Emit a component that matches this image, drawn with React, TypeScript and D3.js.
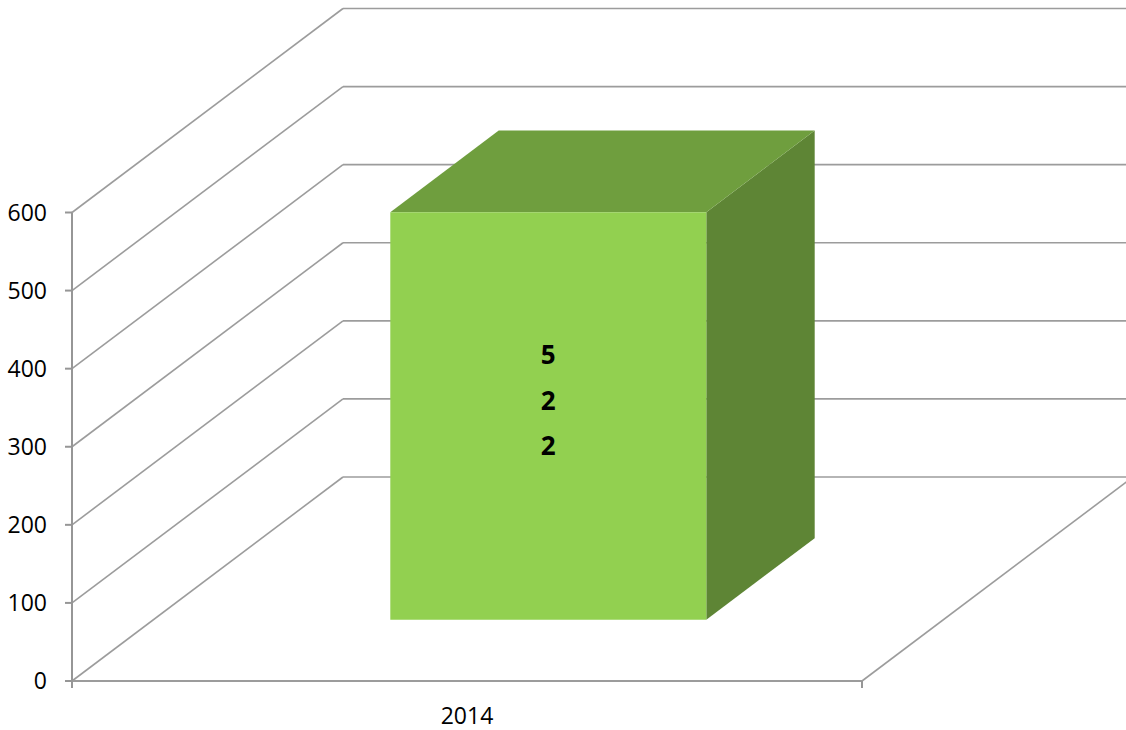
import React from "react";
import * as d3 from "d3";

const categories: string[] = ["2014"];
const values: number[] = [522];
const valueTicks: number[] = [0, 100, 200, 300, 400, 500, 600];

const W = 1126;
const H = 730;
const DEPTH_DX = 271;
const DEPTH_DY = -204;
const BAR_DEPTH_FRONT = 0.3;
const BAR_DEPTH_BACK = 0.7;
const BAR_WIDTH_RATIO = 0.4;
const FONT = "'Open Sans', 'Liberation Sans', sans-serif";
const GRID = "#9C9C9C";

export default function App() {
  const y = d3.scaleLinear().domain([0, 600]).range([681, 212.5]);
  const x = d3.scaleBand<string>().domain(categories).range([72, 862]).padding(0);
  const x0 = 72;
  const x1 = 862;

  const proj = (px: number, py: number, d: number): [number, number] => [
    px + DEPTH_DX * d,
    py + DEPTH_DY * d,
  ];
  const pts = (arr: [number, number][]) => arr.map((p) => p.join(",")).join(" ");

  return (
    <svg
      width={W}
      height={H}
      style={{ position: "absolute", left: 0, top: 0, background: "#fff" }}
    >
      {valueTicks.map((v) => {
        const [bx, by] = proj(x0, y(v), 1);
        return (
          <g key={"g" + v}>
            <line x1={x0} y1={y(v)} x2={bx} y2={by} stroke={GRID} strokeWidth={1.6} />
            <line x1={bx} y1={by} x2={W + 20} y2={by} stroke={GRID} strokeWidth={1.6} />
          </g>
        );
      })}
      {(() => {
        const [rx, ry] = proj(x1, y(0), 1);
        return (
          <g>
            <line x1={x0} y1={y(0)} x2={x1} y2={y(0)} stroke={GRID} strokeWidth={1.9} />
            <line x1={x1} y1={y(0)} x2={rx} y2={ry} stroke={GRID} strokeWidth={1.6} />
          </g>
        );
      })()}
      <line x1={x0} y1={y(600)} x2={x0} y2={y(0) + 7} stroke="#969696" strokeWidth={2} />
      {valueTicks.map((v) => (
        <g key={"t" + v}>
          <line x1={x0 - 7} y1={y(v)} x2={x0} y2={y(v)} stroke="#969696" strokeWidth={2} />
          <text
            x={47}
            y={y(v)}
            dy="0.36em"
            textAnchor="end"
            fontFamily={FONT}
            fontSize={23}
            fill="#000"
          >
            {v}
          </text>
        </g>
      ))}
      {[x0, x1].map((tx) => (
        <line key={"c" + tx} x1={tx} y1={y(0)} x2={tx} y2={y(0) + 7} stroke="#969696" strokeWidth={2} />
      ))}
      {categories.map((c) => (
        <text
          key={"cl" + c}
          x={(x(c) as number) + x.bandwidth() / 2}
          y={724}
          textAnchor="middle"
          fontFamily={FONT}
          fontSize={23}
          fill="#000"
        >
          {c}
        </text>
      ))}
      {categories.map((c, i) => {
        const v = values[i];
        const bw = x.bandwidth() * BAR_WIDTH_RATIO;
        const left = (x(c) as number) + (x.bandwidth() - bw) / 2;
        const right = left + bw;
        const fTL = proj(left, y(v), BAR_DEPTH_FRONT);
        const fTR = proj(right, y(v), BAR_DEPTH_FRONT);
        const fBL = proj(left, y(0), BAR_DEPTH_FRONT);
        const fBR = proj(right, y(0), BAR_DEPTH_FRONT);
        const bTL = proj(left, y(v), BAR_DEPTH_BACK);
        const bTR = proj(right, y(v), BAR_DEPTH_BACK);
        const bBR = proj(right, y(0), BAR_DEPTH_BACK);
        const cx = (fTL[0] + fTR[0]) / 2;
        const cy = (fTL[1] + fBL[1]) / 2;
        const digits = String(v).split("");
        return (
          <g key={"b" + c}>
            <polygon points={pts([fTR, bTR, bBR, fBR])} fill="#5E8535" />
            <polygon points={pts([fTL, bTL, bTR, fTR])} fill="#6F9E3E" />
            <polygon points={pts([fTL, fTR, fBR, fBL])} fill="#92D050" />
            {digits.map((dch, k) => (
              <text
                key={k}
                x={cx}
                y={cy - 52 + k * 45.5}
                textAnchor="middle"
                fontFamily={FONT}
                fontWeight="bold"
                fontSize={26}
                fill="#000"
              >
                {dch}
              </text>
            ))}
          </g>
        );
      })}
    </svg>
  );
}
